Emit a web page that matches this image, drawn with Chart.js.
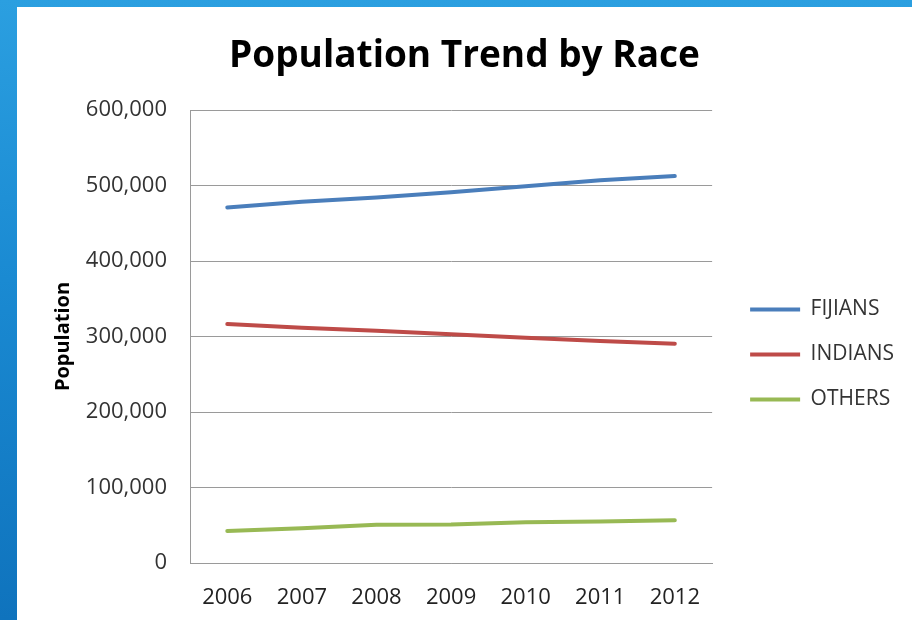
<!DOCTYPE html>
<html>
<head>
<meta charset="utf-8">
<script src="https://cdn.jsdelivr.net/npm/chart.js@4.4.1/dist/chart.umd.min.js"></script>
<style>
  html, body { margin: 0; padding: 0; }
  body {
    width: 912px; height: 620px; overflow: hidden; position: relative;
    background: linear-gradient(to bottom, #2b9fe0 0%, #1a8ad2 45%, #0f73bd 100%);
  }
  #panel {
    position: absolute; left: 17px; top: 7px; width: 895px; height: 613px;
    background: #ffffff;
  }
  canvas { display: block; }
</style>
</head>
<body>
<div id="panel"><canvas id="raceChart" width="895" height="613"></canvas></div>
<script>
var years = ['2006', '2007', '2008', '2009', '2010', '2011', '2012'];
var fijians = [471000, 478500, 484000, 491000, 499000, 507000, 512500];
var indians = [316500, 311500, 307500, 303000, 298500, 294000, 290500];
var others = [42500, 46000, 50500, 51000, 54000, 55000, 56500];
var yTicks = [0, 100000, 200000, 300000, 400000, 500000, 600000];

// nudge the legend away from the plot and lower, like the original
var legendShift = {
  id: 'legendShift',
  afterLayout: function(chart) {
    var lg = chart.legend;
    lg.left += 14; lg.right += 14;
    lg.top += 41; lg.bottom += 41;
  }
};

var ctx = document.getElementById('raceChart').getContext('2d');
var raceChart = new Chart(ctx, {
  type: 'line',
  data: {
    labels: years,
    datasets: [
      { label: 'FIJIANS', data: fijians, borderColor: '#4a7ebb', backgroundColor: '#4a7ebb' },
      { label: 'INDIANS', data: indians, borderColor: '#be4b48', backgroundColor: '#be4b48' },
      { label: 'OTHERS', data: others, borderColor: '#98b954', backgroundColor: '#98b954' }
    ]
  },
  options: {
    responsive: false,
    animation: false,
    layout: { padding: { left: 22, right: 22, top: 0, bottom: 0 } },
    elements: {
      line: { borderWidth: 4, tension: 0, borderCapStyle: 'round', borderJoinStyle: 'round' },
      point: { radius: 0 }
    },
    plugins: {
      title: {
        display: true,
        text: 'Population Trend by Race',
        color: '#000',
        font: { family: 'Open Sans', size: 37, weight: 'bold' },
        padding: { top: 27, bottom: 31.6 }
      },
      legend: {
        position: 'right',
        labels: {
          boxWidth: 50,
          boxHeight: 4,
          padding: 24,
          color: '#333',
          font: { family: 'Open Sans', size: 21 },
          generateLabels: function(chart) {
            var items = Chart.defaults.plugins.legend.labels.generateLabels(chart);
            items.forEach(function(it) { it.lineWidth = 0; });
            return items;
          }
        }
      },
      tooltip: { enabled: false }
    },
    scales: {
      x: {
        offset: true,
        grid: { display: false, drawTicks: false },
        border: { display: true, color: '#9a9a9a', width: 1 },
        ticks: { color: '#222', padding: 22, font: { family: 'Open Sans', size: 22 } },
        afterFit: function(s) { s.height = 57; }
      },
      y: {
        min: 0,
        max: 600000,
        afterBuildTicks: function(s) { s.ticks = yTicks.map(function(v) { return { value: v }; }); },
        grid: { color: '#9a9a9a', drawTicks: false },
        border: { display: true, color: '#9a9a9a', width: 1 },
        ticks: {
          color: '#333',
          padding: 23,
          font: { family: 'Open Sans', size: 22 },
          callback: function(v) { return v.toLocaleString('en-US'); }
        },
        title: {
          display: true,
          text: 'Population',
          color: '#000',
          padding: 12,
          font: { family: 'Open Sans', size: 20, weight: 'bold' }
        },
        afterFit: function(s) { s.width = 151; }
      }
    }
  },
  plugins: [legendShift]
});
</script>
</body>
</html>
